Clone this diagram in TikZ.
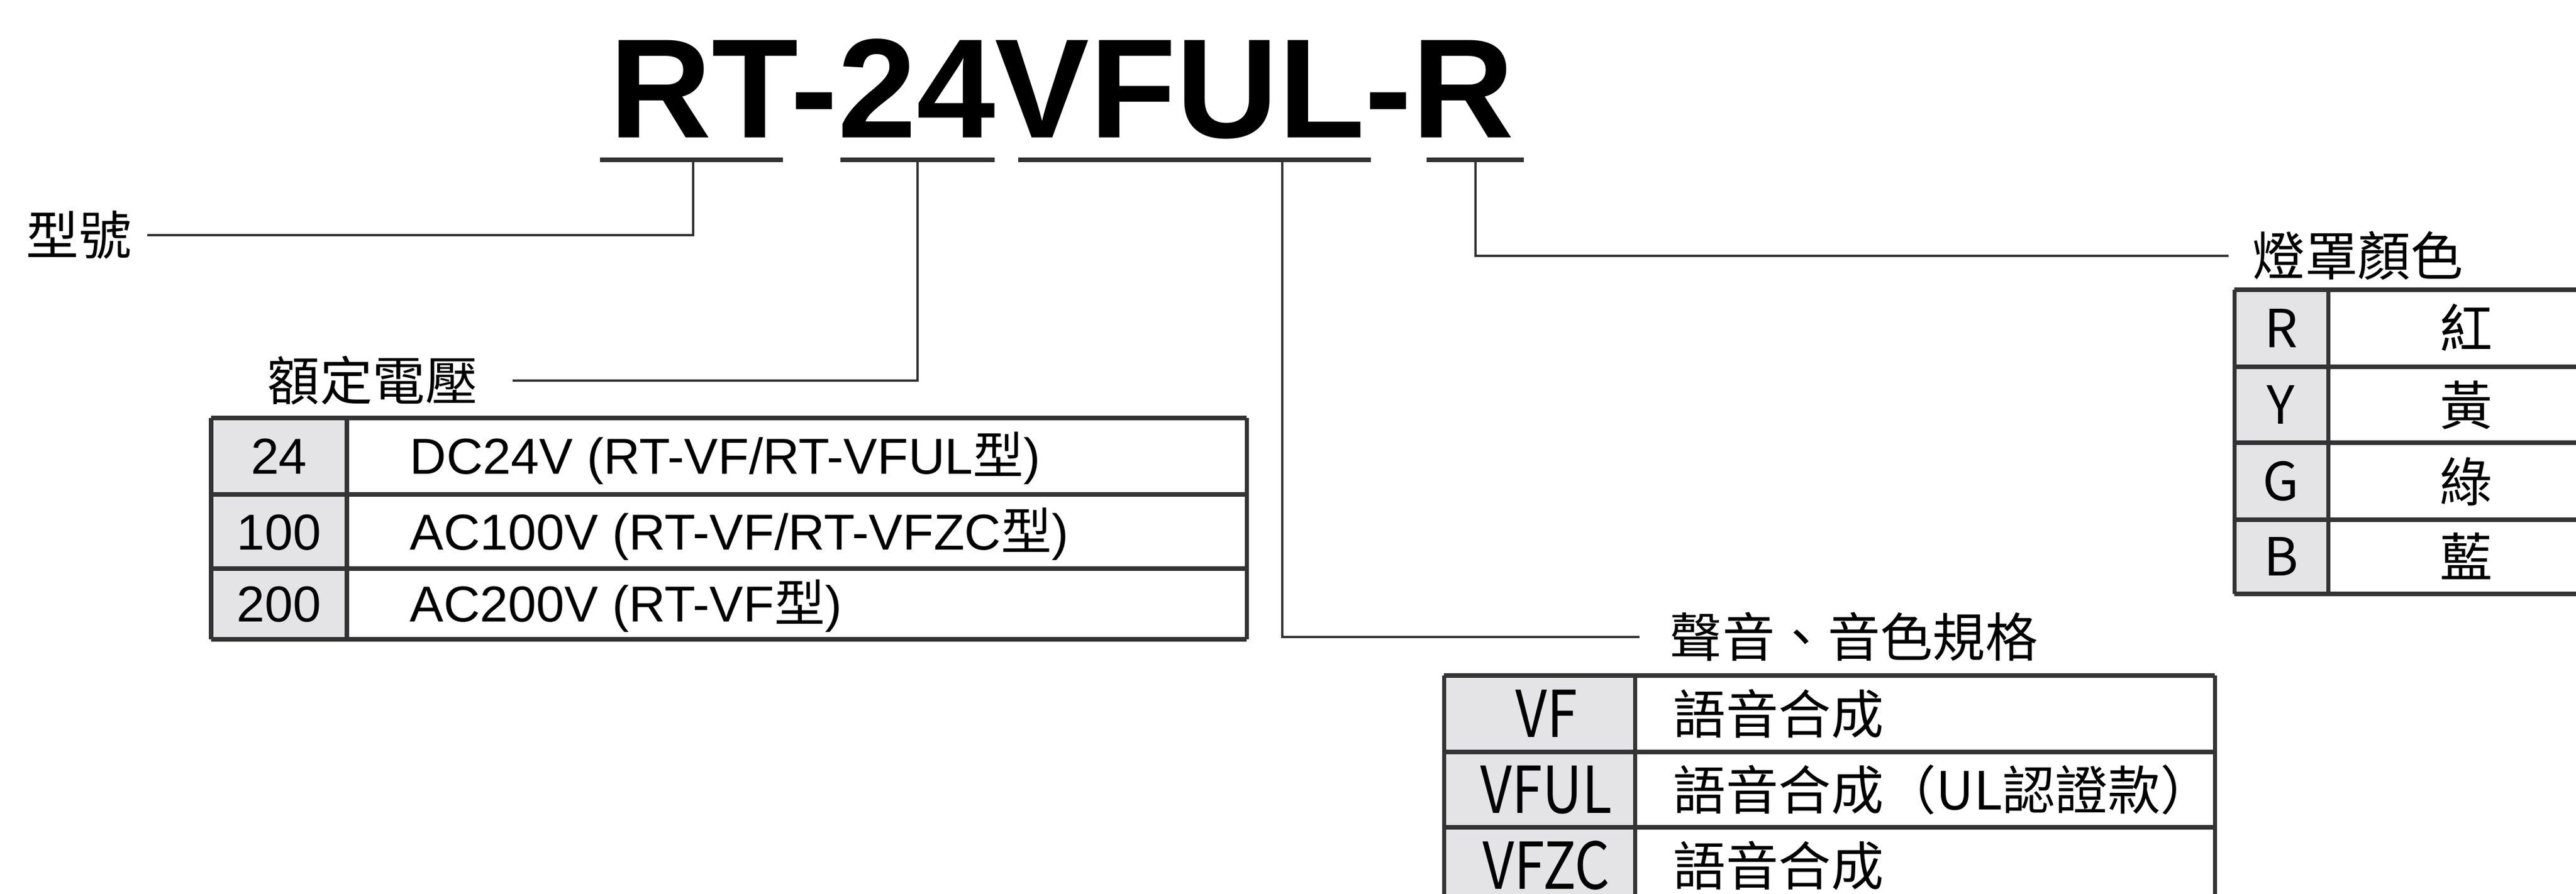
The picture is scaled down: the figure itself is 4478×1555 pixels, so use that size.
\documentclass[tikz,border=0pt]{standalone}
\usepackage{fontspec}
\setmainfont{Liberation Sans}
\newfontfamily\cjk{Noto Sans CJK TC}
\newfontfamily\cjknarrow[FakeStretch=0.85]{Noto Sans CJK TC}

\definecolor{rulegray}{HTML}{333333}
\definecolor{cellgray}{HTML}{E4E4E6}

\begin{document}
\begin{tikzpicture}[x=0.01cm, y=-0.01cm,
    lead/.style={rulegray, line width=1.4pt},
    uline/.style={rulegray, line width=2.2pt},
    tabline/.style={rulegray, line width=2pt},
    tag/.style={inner sep=0pt, font=\cjk\fontsize{26}{30}\selectfont},
    numcell/.style={inner sep=0pt, anchor=base, font=\fontsize{25}{30}\selectfont},
    txtcell/.style={inner sep=0pt, anchor=base west, font=\fontsize{25}{30}\selectfont},
    codecell/.style={inner sep=0pt, anchor=base, font=\cjknarrow\fontsize{32}{36}\selectfont},
    keycell/.style={inner sep=0pt, anchor=base, font=\cjk\fontsize{26}{30}\selectfont},
    speccell/.style={inner sep=0pt, anchor=base west, font=\cjk\fontsize{26}{30}\selectfont}]

\clip (0,0) rectangle (4478,1555);

% model code and its underlines
\node[inner sep=0pt, anchor=base, font=\bfseries\fontsize{70}{70}\selectfont] (title) at (1846,240) {RT-24VFUL-R};
\draw[uline] (1043,278) -- (1361,278);
\draw[uline] (1461,278) -- (1729,278);
\draw[uline] (1770,278) -- (2383,278);
\draw[uline] (2480,278) -- (2649,278);

\coordinate (uModel) at (1205,278);
\coordinate (uVolt) at (1595,278);
\coordinate (uSound) at (2229,278);
\coordinate (uColor) at (2565,278);

% labels
\node[tag, anchor=west] (model) at (45,409) {型號};
\node[tag, anchor=west] (volt) at (464,662) {額定電壓};
\node[tag, anchor=west] (sound) at (2902,1108) {聲音、音色規格};
\node[tag, anchor=west] (color) at (3915,445) {燈罩顏色};

\draw[lead] ([xshift=0.27cm]model.east) -- (model.east -| uModel) -- (uModel);
\draw[lead] ([xshift=0.6cm]volt.east) -- (volt.east -| uVolt) -- (uVolt);
\draw[lead] (uSound) -- (uSound |- sound.west) -- ([xshift=-0.52cm]sound.west);
\draw[lead] (uColor) -- (uColor |- color.west) -- ([xshift=-0.41cm]color.west);

% rated voltage table
\fill[cellgray] (367,727) rectangle (603,1112);
\foreach \y in {727,860,989,1112}
  \draw[tabline] (367,\y) -- (2167,\y);
\foreach \x in {367,603,2167}
  \draw[tabline] (\x,727) -- (\x,1112);
\node[numcell] (v24) at (485,824) {24};
\node[numcell] (v100) at (485,956) {100};
\node[numcell] (v200) at (485,1081) {200};
\node[txtcell] (dc24) at (712,824) {DC24V (RT-VF/RT-VFUL{\cjk 型})};
\node[txtcell] (ac100) at (712,956) {AC100V (RT-VF/RT-VFZC{\cjk 型})};
\node[txtcell] (ac200) at (712,1081) {AC200V (RT-VF{\cjk 型})};

% sound table
\fill[cellgray] (2510,1175) rectangle (2842,1580);
\foreach \y in {1175,1308,1439}
  \draw[tabline] (2510,\y) -- (3850,\y);
\foreach \x in {2510,2842,3850}
  \draw[tabline] (\x,1175) -- (\x,1580);
\node[codecell] (vf) at (2688,1282) {VF};
\node[codecell] (vful) at (2688,1414) {VFUL};
\node[codecell] (vfzc) at (2688,1546) {VFZC};
\node[speccell] (sVf) at (2908,1276) {語音合成};
\node[speccell] (sVful) at (2908,1408) {語音合成（UL認證款）};
\node[speccell] (sVfzc) at (2908,1540) {語音合成};

% cover colour table
\fill[cellgray] (3884,504) rectangle (4047,1033);
\foreach \y in {504,638,770,904,1033}
  \draw[tabline] (3884,\y) -- (4540,\y);
\foreach \x in {3884,4047}
  \draw[tabline] (\x,504) -- (\x,1033);
\node[keycell] (cR) at (3965,604) {R};
\node[keycell] (cY) at (3965,737) {Y};
\node[keycell] (cG) at (3965,870) {G};
\node[keycell] (cB) at (3965,1001) {B};
\node[keycell] (nR) at (4287,606) {紅};
\node[keycell] (nY) at (4287,739) {黃};
\node[keycell] (nG) at (4287,872) {綠};
\node[keycell] (nB) at (4287,1003) {藍};
\end{tikzpicture}
\end{document}
